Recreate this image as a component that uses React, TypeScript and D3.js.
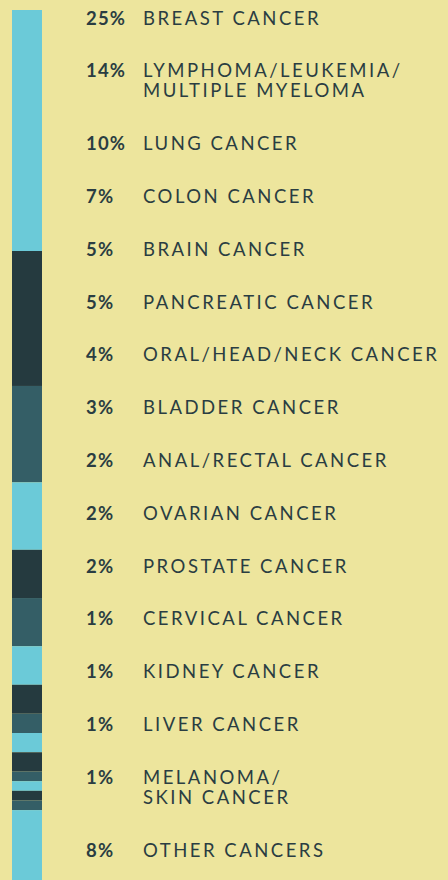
import * as d3 from 'd3'
import { useEffect, useRef } from 'react'

// cancer types, share of cases (%)
const percents = [25, 14, 10, 7, 5, 5, 4, 3, 2, 2, 2, 1, 1, 1, 1, 8]
const labels = [
  ['BREAST CANCER'],
  ['LYMPHOMA/LEUKEMIA/', 'MULTIPLE MYELOMA'],
  ['LUNG CANCER'],
  ['COLON CANCER'],
  ['BRAIN CANCER'],
  ['PANCREATIC CANCER'],
  ['ORAL/HEAD/NECK CANCER'],
  ['BLADDER CANCER'],
  ['ANAL/RECTAL CANCER'],
  ['OVARIAN CANCER'],
  ['PROSTATE CANCER'],
  ['CERVICAL CANCER'],
  ['KIDNEY CANCER'],
  ['LIVER CANCER'],
  ['MELANOMA/', 'SKIN CANCER'],
  ['OTHER CANCERS'],
]
const colors = ['#6bcad8', '#253a3f', '#345e66']

const App = () => {
  const ref = useRef<HTMLDivElement>(null)

  useEffect(() => {
    if (!ref.current) return
    const width = 448
    const height = 880
    const barTop = 10
    const pxPerPct = 9.64

    d3.select(ref.current).select('svg').remove()

    const svg = d3
      .select(ref.current)
      .append('svg')
      .attr('width', width)
      .attr('height', height)
      .style('display', 'block')

    svg.append('rect').attr('width', width).attr('height', height).attr('fill', '#ede59d')

    const total = d3.sum(percents)
    const y = d3
      .scaleLinear()
      .domain([0, total])
      .range([barTop, barTop + total * pxPerPct])
    const color = d3.scaleOrdinal<number, string>().domain(d3.range(percents.length)).range(colors)

    const starts = d3.cumsum([0, ...percents])

    // stacked bar
    svg
      .append('g')
      .selectAll('rect')
      .data(percents)
      .enter()
      .append('rect')
      .attr('x', 12)
      .attr('width', 30)
      .attr('y', (_, i) => y(starts[i]))
      .attr('height', (d, i) => y(starts[i] + d) - y(starts[i]))
      .attr('fill', (_, i) => color(i) as string)

    // rows
    const rowStep = 52.8
    const lineStep = 20
    let extra = 0
    const rows = svg.append('g').attr('fill', '#2a3d42')
    percents.forEach((p, i) => {
      const base = 24.5 + rowStep * i + lineStep * extra
      rows
        .append('text')
        .attr('x', 86)
        .attr('y', base)
        .attr('font-family', 'Lato, sans-serif')
        .attr('font-weight', 700)
        .attr('font-size', 18.5)
        .attr('letter-spacing', 1.2)
        .text(`${p}%`)
      labels[i].forEach((line, j) => {
        rows
          .append('text')
          .attr('x', 143)
          .attr('y', base + j * lineStep)
          .attr('font-family', 'Lato, sans-serif')
          .attr('font-size', 18.5)
          .attr('letter-spacing', 2.5)
          .text(line)
      })
      extra += labels[i].length - 1
    })
  }, [])

  return (
    <div style={{ position: 'absolute', left: 0, top: 0 }}>
      <div ref={ref} />
    </div>
  )
}

export default App
